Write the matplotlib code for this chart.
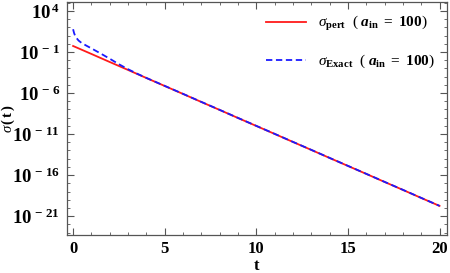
import matplotlib.pyplot as plt
import numpy as np

plt.rcParams['font.family'] = 'Liberation Serif'
plt.rcParams['mathtext.fontset'] = 'custom'
plt.rcParams['mathtext.rm'] = 'Liberation Serif'
plt.rcParams['mathtext.it'] = 'Liberation Serif:italic'
plt.rcParams['mathtext.bf'] = 'Liberation Serif:bold'
plt.rcParams['mathtext.bfit'] = 'Liberation Serif:bold:italic'

# time points and log10(sigma)
t_pert = [0, 1, 2, 3, 4, 5, 6, 7, 8, 9, 10, 11, 12, 13, 14, 15, 16, 17, 18, 19, 20]
log_pert = [-0.27, -1.24, -2.22, -3.19, -4.17, -5.14, -6.11, -7.09, -8.06, -9.04, -10.01,
            -10.98, -11.96, -12.93, -13.91, -14.88, -15.85, -16.83, -17.80, -18.78, -19.75]

t_exact = [0, 0.05, 0.1, 0.2, 0.3, 0.47, 0.75, 1, 1.5, 2, 2.5, 3, 3.5, 4, 5, 6, 7, 8,
           9, 10, 11, 12, 13, 14, 15, 16, 17, 18, 19, 20]
log_exact = [1.77, 1.33, 1.03, 0.66, 0.39, 0.09, -0.26, -0.56, -1.18, -1.82, -2.49, -3.10,
             -3.65, -4.16, -5.13, -6.1, -7.08, -8.05, -9.03, -10.0, -10.97, -11.95, -12.92,
             -13.9, -14.87, -15.84, -16.82, -17.79, -18.77, -19.74]

major_exp = [4, -1, -6, -11, -16, -21]

fig = plt.figure(figsize=(4.5, 2.73), dpi=100)
ax = fig.add_axes([0.149, 0.139, 0.844, 0.854])

ax.semilogy(t_pert, 10.0 ** np.array(log_pert), color='#ff1a1a', lw=1.3,
            label=r'$\sigma_{\mathbf{pert}}\ \ (\ \mathbfit{a}_{\mathbf{in}}\ \mathbf{=\ 100})$')
ax.semilogy(t_exact, 10.0 ** np.array(log_exact), color='#1a1aff', lw=1.3, ls=(0, (3.5, 2)),
            label=r'$\sigma_{\mathbf{Exact}}\ \ (\ \mathbfit{a}_{\mathbf{in}}\ \mathbf{=\ 100})$')

ax.set_xlim(-0.33, 20.4)
ax.set_ylim(10.0 ** -23.3, 10.0 ** 5.1)

ax.set_xticks([0, 5, 10, 15, 20])
ax.set_xticklabels(['0', '5', '10', '15', '20'], fontweight='bold', fontsize=12)
ax.set_xticks(np.arange(0, 21, 1), minor=True)
ax.set_yticks([10.0 ** e for e in major_exp])
ax.set_yticklabels([r'$\mathbf{10^{\,%s}}$' % (str(e).replace('-', '-\\,')) for e in major_exp],
                   fontsize=13.5)
ax.set_yticks([10.0 ** e for e in range(-23, 6)], minor=True)
ax.yaxis.set_minor_formatter(plt.NullFormatter())

ax.tick_params(which='both', direction='in', top=True, right=True, color='#555555')
ax.tick_params(which='major', length=5, width=0.8)
ax.tick_params(which='minor', length=2.5, width=0.6)
ax.tick_params(axis='x', which='major', pad=4)
ax.tick_params(axis='y', which='major', pad=5)
for s in ax.spines.values():
    s.set_color('#555555')
    s.set_linewidth(0.9)

ax.set_xlabel('t', fontsize=12, fontweight='bold', labelpad=1)
ax.set_ylabel(r'$\sigma\,\mathbf{(\,t\,)}$', fontsize=10.5)
ax.yaxis.set_label_coords(-0.133, 0.5)

ax.legend(loc='upper right', frameon=False, fontsize=11, labelspacing=1.3,
          handlelength=2.6, borderaxespad=0.4)

fig.savefig('out.png', dpi=100)
